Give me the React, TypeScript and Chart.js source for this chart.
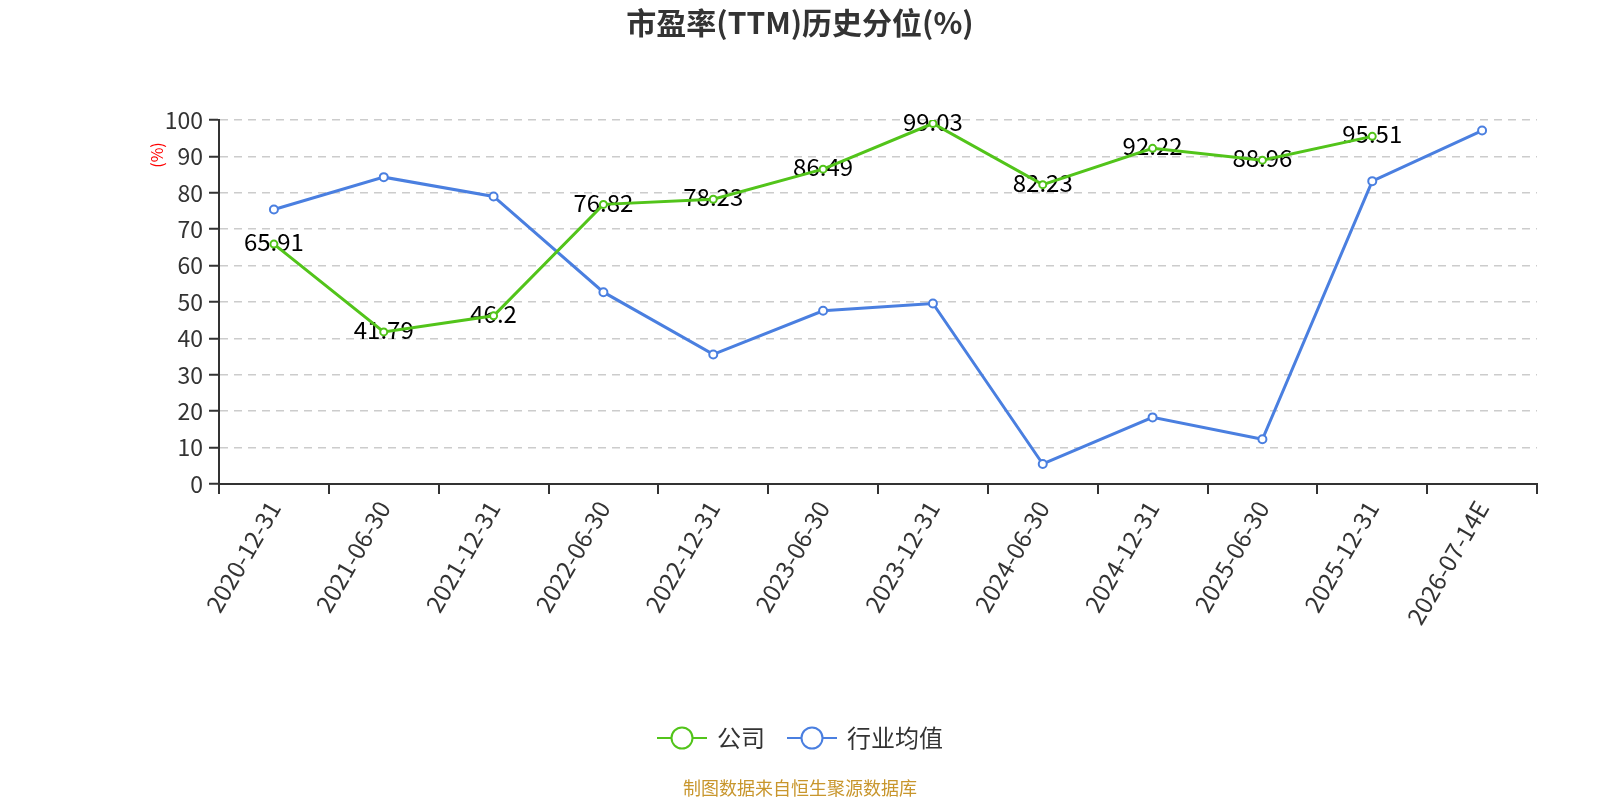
import { useEffect, useRef } from 'react';
import { Chart, registerables } from 'chart.js';

Chart.register(...registerables);

const FONT = '"Noto Sans CJK SC", "Noto Sans", sans-serif';

// 报告期
const categories = [
  '2020-12-31', '2021-06-30', '2021-12-31', '2022-06-30', '2022-12-31', '2023-06-30',
  '2023-12-31', '2024-06-30', '2024-12-31', '2025-06-30', '2025-12-31', '2026-07-14E',
];

// 公司 PE(TTM) 历史分位
const companyValues = [65.91, 41.79, 46.2, 76.82, 78.23, 86.49, 99.03, 82.23, 92.22, 88.96, 95.51, null];

// 行业均值
const industryValues = [75.4, 84.3, 79.0, 52.7, 35.6, 47.6, 49.6, 5.5, 18.3, 12.3, 83.2, 97.1];

const seriesNames = ['公司', '行业均值'];
const seriesColors = ['#52C41A', '#4A7FE0'];

const yMin = 0;
const yMax = 100;
const yStep = 10;

const title = '市盈率(TTM)历史分位(%)';
const yName = '(%)';
const footer = '制图数据来自恒生聚源数据库';

// 数据标签（只给公司系列）
const valueLabels = {
  id: 'valueLabels',
  beforeDatasetsDraw(chart: Chart) {
    const { ctx } = chart;
    const meta = chart.getDatasetMeta(0);
    ctx.save();
    ctx.font = `24px ${FONT}`;
    ctx.fillStyle = '#000';
    ctx.textAlign = 'center';
    ctx.textBaseline = 'middle';
    meta.data.forEach((pt, i) => {
      const v = companyValues[i];
      if (v == null) return;
      ctx.fillText(String(v), pt.x, pt.y - 2);
    });
    ctx.restore();
  },
};

// 标题、轴名、图例、来源
const decorations = {
  id: 'decorations',
  afterDraw(chart: Chart) {
    const { ctx } = chart;
    ctx.save();

    ctx.font = `bold 30px ${FONT}`;
    ctx.fillStyle = '#333';
    ctx.textAlign = 'center';
    ctx.textBaseline = 'middle';
    ctx.fillText(title, 800, 23);

    ctx.save();
    ctx.translate(157, 155);
    ctx.rotate(-Math.PI / 2);
    ctx.font = `16px ${FONT}`;
    ctx.fillStyle = '#ff0000';
    ctx.fillText(yName, 0, 0);
    ctx.restore();

    // legend
    ctx.font = `24px ${FONT}`;
    const iconW = 50;
    const gapText = 10;
    const gapItem = 22;
    const widths = seriesNames.map((n) => iconW + gapText + ctx.measureText(n).width);
    const total = widths.reduce((a, b) => a + b, 0) + gapItem * (widths.length - 1);
    let x = 800 - total / 2;
    const ly = 738;
    seriesNames.forEach((name, i) => {
      ctx.strokeStyle = seriesColors[i];
      ctx.lineWidth = 2;
      ctx.beginPath();
      ctx.moveTo(x, ly);
      ctx.lineTo(x + iconW, ly);
      ctx.stroke();
      ctx.beginPath();
      ctx.arc(x + iconW / 2, ly, 10.5, 0, Math.PI * 2);
      ctx.fillStyle = '#fff';
      ctx.fill();
      ctx.stroke();
      ctx.fillStyle = '#333';
      ctx.textAlign = 'left';
      ctx.fillText(name, x + iconW + gapText, ly);
      x += widths[i] + gapItem;
    });

    ctx.font = `18px ${FONT}`;
    ctx.fillStyle = '#C8962D';
    ctx.textAlign = 'center';
    ctx.fillText(footer, 800, 788);

    ctx.restore();
  },
};

function PeChart() {
  const canvasRef = useRef<HTMLCanvasElement>(null);

  useEffect(() => {
    if (!canvasRef.current) return;
    const chart = new Chart(canvasRef.current, {
      type: 'line',
      data: {
        labels: categories,
        datasets: [
          {
            label: seriesNames[0],
            data: companyValues,
            borderColor: seriesColors[0],
            backgroundColor: '#fff',
            borderWidth: 3,
            pointRadius: 3.5,
            pointBorderWidth: 2,
            pointBackgroundColor: '#fff',
            pointBorderColor: seriesColors[0],
            tension: 0,
          },
          {
            label: seriesNames[1],
            data: industryValues,
            borderColor: seriesColors[1],
            backgroundColor: '#fff',
            borderWidth: 3,
            pointRadius: 4,
            pointBorderWidth: 2,
            pointBackgroundColor: '#fff',
            pointBorderColor: seriesColors[1],
            tension: 0,
          },
        ],
      },
      options: {
        responsive: false,
        animation: false,
        layout: { padding: { left: 0, right: 63, top: 120, bottom: 0 } },
        plugins: {
          legend: { display: false },
          title: { display: false },
          tooltip: { enabled: false },
        },
        scales: {
          x: {
            type: 'category',
            offset: true,
            afterFit: (s) => {
              s.height = 316;
            },
            grid: {
              offset: true,
              drawOnChartArea: false,
              drawTicks: true,
              tickLength: 10,
              color: '#333',
              lineWidth: 2,
            },
            border: { display: true, color: '#333', width: 2 },
            ticks: {
              autoSkip: false,
              minRotation: 60,
              maxRotation: 60,
              padding: 2,
              color: '#333',
              font: { family: FONT, size: 24 },
            },
          },
          y: {
            min: yMin,
            max: yMax,
            afterFit: (s) => {
              s.width = 219;
            },
            grid: {
              color: '#ccc',
              lineWidth: 1.5,
              tickLength: 10,
              tickColor: '#333',
              tickWidth: 2,
            },
            border: { display: true, color: '#333', width: 2, dash: [8, 6] },
            ticks: {
              stepSize: yStep,
              padding: 6,
              color: '#333',
              font: { family: FONT, size: 23 },
            },
          },
        },
      },
      plugins: [valueLabels, decorations],
    });
    return () => chart.destroy();
  }, []);

  return <canvas ref={canvasRef} width={1600} height={800} />;
}

export default function App() {
  return (
    <div style={{ position: 'absolute', top: 0, left: 0, width: 1600, height: 800, background: '#fff' }}>
      <PeChart />
    </div>
  );
}
